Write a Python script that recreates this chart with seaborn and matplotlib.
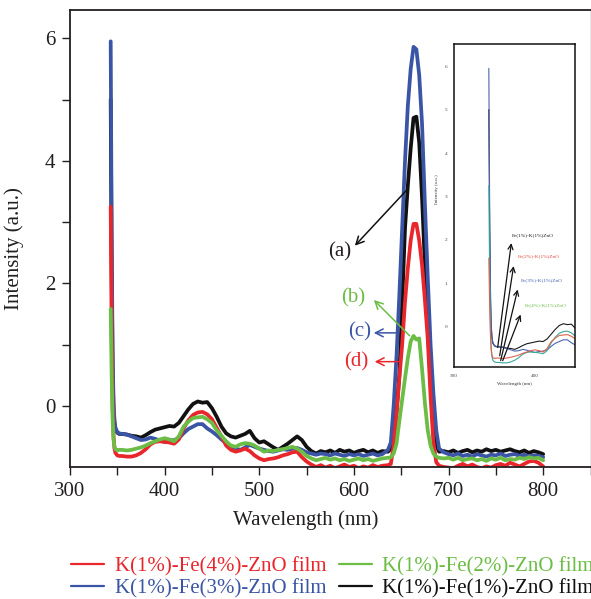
import numpy as np
import pandas as pd
import matplotlib
matplotlib.use("Agg")
import matplotlib.pyplot as plt
from matplotlib.lines import Line2D
from matplotlib.ticker import FixedLocator
import seaborn as sns

# ---------------- data ----------------
wavelength = [
    343, 344, 345, 346, 347, 348, 350, 352,
    355, 360, 365, 370, 375, 380, 385, 390, 395, 400, 405, 410, 415, 420,
    425, 430, 435, 440, 445, 450, 455, 460, 465, 470, 475, 480, 485, 490,
    495, 500, 505, 510, 515, 520, 525, 530, 535, 540, 545, 550, 555, 560,
    565, 570, 575, 580, 585, 590, 595, 600, 605, 610, 615, 620, 625, 630,
    636, 639, 642, 645, 648, 651, 654, 657, 660, 663, 666, 669, 672, 675,
    678, 681, 684, 687, 690,
    695, 700, 705, 710, 715, 720, 725, 730, 735, 740, 745, 750, 755, 760,
    765, 770, 775, 780, 785, 790, 795, 800,
]

fe1 = [  # K(1%)-Fe(1%)-ZnO
    5.0, 2.3, 0.6, -0.05, -0.28, -0.38, -0.44, -0.46,
    -0.46, -0.47, -0.49, -0.5, -0.52, -0.48, -0.43, -0.39, -0.37, -0.35, -0.33, -0.34, -0.28, -0.17,
    -0.06, 0.03, 0.07, 0.05, 0.06, -0.04, -0.18, -0.34, -0.45, -0.5, -0.52, -0.49, -0.46, -0.41,
    -0.53, -0.6, -0.58, -0.63, -0.68, -0.72, -0.67, -0.62, -0.56, -0.5, -0.56, -0.67, -0.74, -0.78,
    -0.74, -0.76, -0.73, -0.77, -0.72, -0.75, -0.73, -0.77, -0.74, -0.72, -0.76, -0.73, -0.77, -0.74,
    -0.75, -0.7, -0.5, -0.1, 0.5, 1.7, 2.9, 3.6, 4.2, 4.7, 4.72, 4.3, 3.4, 2.3,
    1.3, 0.4, -0.3, -0.65, -0.75,
    -0.74, -0.76, -0.73, -0.77, -0.74, -0.72, -0.76, -0.73, -0.75, -0.71, -0.74, -0.72, -0.75, -0.73,
    -0.71, -0.74, -0.76, -0.73, -0.77, -0.74, -0.76, -0.79,
]

fe2 = [  # K(1%)-Fe(2%)-ZnO
    1.58, 0.5, -0.2, -0.55, -0.67, -0.71, -0.73, -0.72,
    -0.72, -0.73, -0.72, -0.7, -0.68, -0.65, -0.61, -0.58, -0.55, -0.53, -0.55, -0.58, -0.5, -0.34,
    -0.26, -0.2, -0.19, -0.18, -0.22, -0.28, -0.4, -0.49, -0.58, -0.65, -0.67, -0.63, -0.61, -0.62,
    -0.65, -0.7, -0.75, -0.73, -0.74, -0.72, -0.71, -0.69, -0.67, -0.7, -0.75, -0.82, -0.86, -0.89,
    -0.87, -0.85, -0.88, -0.86, -0.89, -0.87, -0.9, -0.88, -0.86, -0.89, -0.87, -0.9, -0.88, -0.86,
    -0.85, -0.84, -0.78, -0.62, -0.25, 0.1, 0.45, 0.78, 1.05, 1.14, 1.08, 1.1, 0.6, 0.05,
    -0.4, -0.65, -0.78, -0.83, -0.85,
    -0.86, -0.85, -0.88, -0.85, -0.89, -0.87, -0.86, -0.89, -0.87, -0.9, -0.86, -0.88, -0.85, -0.89,
    -0.87, -0.88, -0.85, -0.87, -0.84, -0.86, -0.85, -0.89,
]

fe3 = [  # K(1%)-Fe(3%)-ZnO
    5.95, 2.8, 0.9, 0.05, -0.25, -0.36, -0.43, -0.45,
    -0.46, -0.47, -0.5, -0.53, -0.56, -0.55, -0.52, -0.54, -0.57, -0.59, -0.57, -0.56, -0.53, -0.45,
    -0.38, -0.34, -0.3, -0.3, -0.37, -0.42, -0.48, -0.55, -0.61, -0.66, -0.7, -0.72, -0.68, -0.64,
    -0.67, -0.7, -0.72, -0.74, -0.75, -0.73, -0.71, -0.72, -0.7, -0.69, -0.72, -0.76, -0.78, -0.8,
    -0.78, -0.79, -0.81, -0.78, -0.8, -0.82, -0.79, -0.81, -0.79, -0.82, -0.8, -0.78, -0.81, -0.79,
    -0.72, -0.6, 0.0, 0.8, 1.8, 2.9, 4.0, 4.9, 5.5, 5.86, 5.82, 5.4, 4.6, 3.3,
    2.1, 1.0, 0.2, -0.4, -0.7,
    -0.76, -0.79, -0.81, -0.78, -0.82, -0.8, -0.83, -0.79, -0.81, -0.83, -0.8, -0.81, -0.78, -0.82,
    -0.8, -0.79, -0.82, -0.8, -0.83, -0.81, -0.82, -0.84,
]

fe4 = [  # K(1%)-Fe(4%)-ZnO
    3.25, 1.2, 0.0, -0.5, -0.7, -0.77, -0.81, -0.82,
    -0.82, -0.83, -0.83, -0.81, -0.77, -0.71, -0.63, -0.59, -0.58, -0.59, -0.6, -0.62, -0.55, -0.37,
    -0.24, -0.15, -0.11, -0.1, -0.14, -0.22, -0.36, -0.5, -0.65, -0.72, -0.75, -0.73, -0.7, -0.74,
    -0.81, -0.86, -0.89, -0.87, -0.86, -0.84, -0.81, -0.79, -0.76, -0.75, -0.84, -0.91, -0.96, -1.0,
    -0.97, -1.01, -0.98, -1.02, -0.99, -0.96, -1.0, -0.98, -1.02, -0.99, -1.01, -0.97, -1.0, -0.98,
    -0.97, -0.95, -0.65, -0.15, 0.45, 1.0, 1.7, 2.25, 2.7, 2.97, 2.97, 2.7, 2.3, 1.73,
    1.1, 0.15, -0.6, -0.92, -0.98,
    -1.0, -1.01, -1.02, -0.98, -0.95, -0.99, -0.96, -1.0, -1.02, -0.99, -1.01, -0.97, -0.95, -0.98,
    -0.93, -0.96, -0.99, -0.95, -0.91, -0.9, -0.93, -0.99,
]

series_names = ["K(1%)-Fe(1%)-ZnO film", "K(1%)-Fe(3%)-ZnO film",
                "K(1%)-Fe(4%)-ZnO film", "K(1%)-Fe(2%)-ZnO film"]
series_values = [fe1, fe3, fe4, fe2]
main_colors = ["#111111", "#3a55a5", "#e8262b", "#6cbd45"]
inset_colors = ["#1a1a1a", "#4a63b3", "#3aa89a", "#e0634f"]
inset_labels = ["Fe(1%)-K(1%)ZnO", "Fe(2%)-K(1%)ZnO", "Fe(3%)-K(1%)ZnO", "Fe(4%)-K(1%)ZnO"]
inset_label_colors = ["#1a1a1a", "#e0453a", "#3f5fb0", "#6cbd45"]

x_ticks = [300, 400, 500, 600, 700, 800]
y_ticks = [0, 2, 4, 6]

frames = [pd.DataFrame({"wavelength": wavelength, "intensity": v, "sample": n})
          for n, v in zip(series_names, series_values)]
df = pd.concat(frames, ignore_index=True)

# ---------------- style ----------------
sns.set_theme(style="ticks")
plt.rcParams["font.family"] = ["Liberation Serif", "DejaVu Serif"]
TXT = "#231f20"
FS = 15

fig = plt.figure(figsize=(5.91, 5.99), dpi=100)
ax = fig.add_axes([70 / 591, 132 / 599, 520.5 / 591, 457.5 / 599])

sns.lineplot(data=df, x="wavelength", y="intensity", hue="sample",
             hue_order=series_names, palette=main_colors, sort=False,
             linewidth=2.7, legend=False, ax=ax, estimator=None)

ax.set_xlim(300, 850)
ax.set_ylim(-1.0, 6.47)
ax.xaxis.set_major_locator(FixedLocator(x_ticks))
ax.xaxis.set_minor_locator(FixedLocator([350, 450, 550, 650, 750, 850]))
ax.yaxis.set_major_locator(FixedLocator(y_ticks))
ax.yaxis.set_minor_locator(FixedLocator([1, 3, 5]))
ax.tick_params(which="both", direction="out", length=6, width=1.0,
               colors=TXT, labelsize=FS, pad=4.5)
for side in ["left", "bottom", "top"]:
    ax.spines[side].set_linewidth(1.3)
    ax.spines[side].set_color(TXT)
ax.spines["right"].set_linewidth(1.0)
ax.spines["right"].set_color("#8a8a8a")

ax.set_xlabel("Wavelength (nm)", fontsize=FS, color=TXT)
ax.set_ylabel("Intensity (a.u.)", fontsize=FS, color=TXT)
ax.xaxis.set_label_coords((306 - 70) / 520.5, -0.095)
ax.yaxis.set_label_coords(-0.088, 0.478)

# peak labels
arrow_kw = dict(arrowstyle="->", lw=1.1, mutation_scale=14)
ax.annotate("", xy=(599, 2.58), xytext=(657.5, 3.55),
            arrowprops=dict(color="#111111", **arrow_kw))
ax.text(585, 2.51, "(a)", fontsize=15, color=TXT, ha="center", va="center")
ax.annotate("", xy=(619, 1.76), xytext=(661, 1.11),
            arrowprops=dict(color="#6cbd45", **arrow_kw))
ax.text(599, 1.76, "(b)", fontsize=15, color="#6cbd45", ha="center", va="center")
ax.annotate("", xy=(618, 1.19), xytext=(648.5, 1.19),
            arrowprops=dict(color="#3a55a5", **arrow_kw))
ax.text(606, 1.2, "(c)", fontsize=15, color="#3a55a5", ha="center", va="center")
ax.annotate("", xy=(619, 0.72), xytext=(650.5, 0.72),
            arrowprops=dict(color="#e8262b", **arrow_kw))
ax.text(603, 0.71, "(d)", fontsize=15, color="#e8262b", ha="center", va="center")

# ---------------- inset ----------------
ins = fig.add_axes([454 / 591, 232 / 599, 121 / 591, 323 / 599])
ins.set_facecolor("white")
sns.lineplot(data=df, x="wavelength", y="intensity", hue="sample",
             hue_order=series_names, palette=inset_colors, sort=False,
             linewidth=0.8, legend=False, ax=ins, estimator=None)
ins.set_xlim(300, 449.4)
ins.set_ylim(-0.926, 6.51)
ins.xaxis.set_major_locator(FixedLocator([300, 400]))
ins.yaxis.set_major_locator(FixedLocator([0, 1, 2, 3, 4, 5, 6]))
ins.tick_params(which="both", length=0, labelsize=3.8, colors="#444444", pad=5)
for s in ins.spines.values():
    s.set_linewidth(1.1)
    s.set_color("#111111")
ins.set_xlabel("Wavelength (nm)", fontsize=3.6, color="#333333")
ins.set_ylabel("Intensity (a.u.)", fontsize=3.6, color="#333333")
ins.xaxis.set_label_coords(0.5, -0.045)
ins.yaxis.set_label_coords(-0.12, 0.55)

tails = [(353.5, -0.54), (355.9, -0.73), (356.8, -0.84), (358.9, -0.84)]
heads = [(371.2, 1.99), (374.1, 1.46), (379.4, 0.92), (383.5, 0.34)]
label_pos = [(371.2, 2.07), (378.2, 1.57), (382.3, 1.02), (388.0, 0.46)]
for (tx, ty), (hx, hy), (lx, ly), lab, c in zip(tails, heads, label_pos,
                                                 inset_labels, inset_label_colors):
    ins.annotate("", xy=(hx, hy), xytext=(tx, ty),
                 arrowprops=dict(arrowstyle="->", lw=0.9, color="#111111",
                                 mutation_scale=9))
    ins.text(lx, ly, lab, fontsize=3.9, color=c, ha="left", va="bottom")

# ---------------- legend ----------------
legend_order = [2, 1, 3, 0]
handles = [Line2D([], [], color=main_colors[i], lw=1.6) for i in legend_order]
labels = [series_names[i] for i in legend_order]
leg = fig.legend(handles, labels, loc="upper left", ncol=2,
                 bbox_to_anchor=(71 / 591, 1 - 557 / 599),
                 bbox_transform=fig.transFigure, frameon=False,
                 borderaxespad=0, borderpad=0, fontsize=FS,
                 handlelength=1.6, handletextpad=0.5, columnspacing=0.6,
                 labelspacing=0.1)
for t, i in zip(leg.get_texts(), legend_order):
    t.set_color(main_colors[i])

fig.savefig("out.png", dpi=100)
